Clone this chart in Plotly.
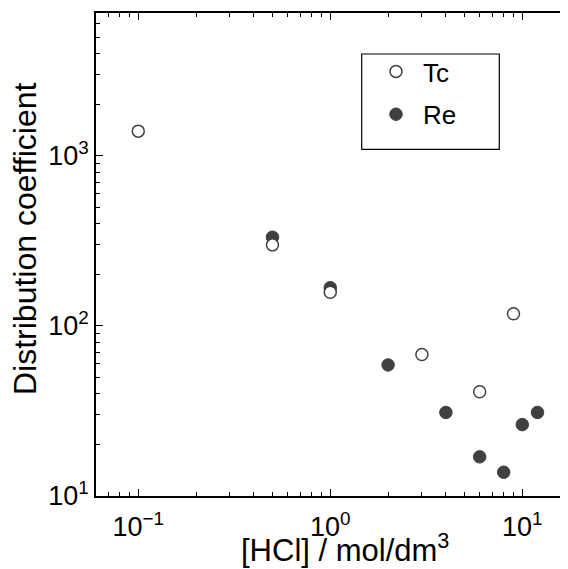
import plotly.graph_objects as go

# Data
tc_hcl = [0.1, 0.5, 1, 3, 6, 9]
tc_kd = [1400, 300, 158, 68, 41, 118]
re_hcl = [0.5, 1, 2, 4, 6, 8, 10, 12]
re_kd = [333, 168, 59, 31, 17, 13.8, 26.3, 31]

# Tick values / labels
x_major = [0.1, 1, 10]
x_major_text = ["10<sup>\u22121</sup>", "10<sup>0</sup>", "10<sup>1</sup>"]
x_minor = [0.07, 0.08, 0.09, 0.2, 0.3, 0.4, 0.5, 0.6, 0.7, 0.8, 0.9,
           2, 3, 4, 5, 6, 7, 8, 9]
y_major = [10, 100, 1000]
y_major_text = ["10<sup>1</sup>", "10<sup>2</sup>", "10<sup>3</sup>"]
y_minor = [20, 30, 40, 50, 60, 70, 80, 90, 200, 300, 400, 500, 600, 700,
           800, 900, 2000, 3000, 4000, 5000, 6000]

x_title = "[HCl] / mol/dm<sup>3</sup>"
y_title = "Distribution coefficient"

# The page body has an 8px margin; work in reference-pixel coordinates and offset.
OFF = 8
W, H = 568 - OFF, 569 - OFF
ML, MT = 96 - OFF, 13 - OFF
MB = H - (496 - OFF)
MR = 0
pw, ph = W - ML - MR, H - MT - MB

def px2paper_x(px):  # px in reference-window coordinates
    return (px - OFF - ML) / pw

def px2paper_y(py):
    return (H - MB - (py - OFF)) / ph

dark = "#404040"
font_family = "Liberation Sans, Arial, sans-serif"

fig = go.Figure()
fig.add_trace(go.Scatter(
    x=re_hcl, y=re_kd, mode="markers", name="Re", legendgroup="re", legendrank=2,
    marker=dict(symbol="circle", size=12.5, color=dark, line=dict(color=dark, width=1)),
))
fig.add_trace(go.Scatter(
    x=tc_hcl, y=tc_kd, mode="markers", name="Tc", legendgroup="tc", legendrank=1,
    marker=dict(symbol="circle", size=12, color="white", line=dict(color=dark, width=1.5)),
))

axis_common = dict(
    type="log", showgrid=False, zeroline=False, ticks="inside",
    ticklen=7, tickwidth=1.3, tickcolor="black",
    showline=True, linecolor="black", linewidth=1.5,
    tickfont=dict(size=27, color="black", family=font_family),
    tickmode="array", automargin=False,
)

fig.update_xaxes(
    **axis_common,
    range=[-1.22, 1.238],
    tickvals=x_major, ticktext=x_major_text,
    minor=dict(tickmode="array", tickvals=x_minor, ticks="inside", ticklen=4,
               tickwidth=1.2, tickcolor="black"),
    mirror="ticks",
    ticklabelstandoff=6,
)
fig.update_yaxes(
    **axis_common,
    range=[1, 3.841],
    tickvals=y_major, ticktext=y_major_text,
    minor=dict(tickmode="array", tickvals=y_minor, ticks="inside", ticklen=4,
               tickwidth=1.2, tickcolor="black"),
    mirror=False,
)

fig.add_shape(type="rect", xref="paper", yref="paper",
              x0=px2paper_x(361.7), x1=px2paper_x(499.3),
              y0=px2paper_y(149.3), y1=px2paper_y(54),
              line=dict(color="black", width=1.2), fillcolor="rgba(0,0,0,0)")

# Axis titles as annotations for precise placement
fig.add_annotation(text=x_title, xref="paper", yref="paper",
                   x=px2paper_x(345), y=px2paper_y(570), xanchor="center", yanchor="bottom",
                   showarrow=False, font=dict(size=31, color="black", family=font_family))
fig.add_annotation(text=y_title, xref="paper", yref="paper", textangle=-90,
                   x=px2paper_x(5), y=px2paper_y(239), xanchor="left", yanchor="middle",
                   showarrow=False, font=dict(size=32, color="black", family=font_family))

fig.update_layout(
    width=W, height=H,
    margin=dict(l=ML, r=MR, t=MT, b=MB),
    paper_bgcolor="white", plot_bgcolor="white",
    font=dict(family=font_family, color="black"),
    showlegend=True,
    legend=dict(
        x=px2paper_x(369), y=px2paper_y(48), xanchor="left", yanchor="top",
        bgcolor="rgba(0,0,0,0)", borderwidth=0,
        font=dict(size=26, color="black", family=font_family),
        tracegroupgap=6, itemwidth=44,
    ),
)

fig.write_html("out.html")
